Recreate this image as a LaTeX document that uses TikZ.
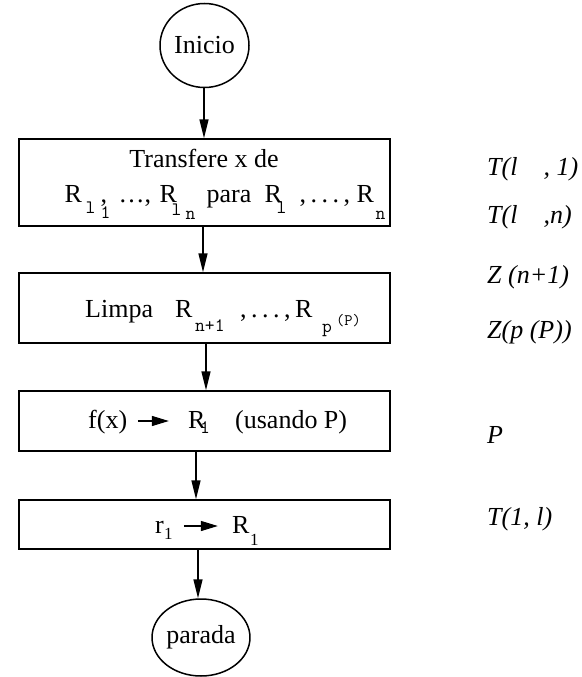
\documentclass[tikz,border=0pt]{standalone}
\usepackage{fontspec}
\setmainfont{Liberation Serif}
\usetikzlibrary{shapes.geometric,arrows.meta,positioning,calc}

% lowered register index, and piece placed at a fixed offset on a line
\newcommand{\regsub}[3][19]{\raisebox{-#2pt}{\fontsize{#1}{#1}\ttfamily #3}}
\newcommand{\placeat}[2]{\makebox[0pt][l]{\hspace*{#1pt}#2}}
\newcommand{\regdots}{,\hspace{4.5pt}.\hspace{4.5pt}.\hspace{4.5pt}.\hspace{4.5pt},}
\newcommand{\mapsarrow}[1]{\tikz[baseline=-7pt]\draw[line width=1.3pt,-{Triangle[length=17pt,width=10pt]}] (0pt,0pt) -- (#1pt,0pt);}

\begin{document}
\begin{tikzpicture}[x=1pt, y=-1pt,
    every node/.style={font=\fontsize{26}{31}\selectfont},
    terminal/.style={ellipse, draw, line width=1.5pt, inner sep=0pt},
    stepbox/.style={rectangle, draw, line width=1.5pt, minimum width=371pt, inner sep=0pt},
    line/.style={anchor=base west, inner sep=0pt},
    note/.style={anchor=base west, inner sep=0pt, font=\fontsize{26}{31}\selectfont\itshape},
    flow/.style={line width=1.5pt, -{Triangle[length=19pt,width=9pt]}}
]
\useasboundingbox (0,0) rectangle (581,677);

% Terminals
\node[terminal, minimum width=89pt, minimum height=84pt] (inicio) at (204.5,45.5) {Inicio};
\node[terminal, minimum width=92pt, minimum height=77pt] (parada) at (201,637.5) {parada};

% Steps
\node[stepbox, minimum height=87pt] (transfere) at (204.5,182.5) {};
\node[stepbox, minimum height=70pt] (limpa) at (204.5,308) {};
\node[stepbox, minimum height=60pt] (calcula) at (204.5,421) {};
\node[stepbox, minimum height=49pt] (copia) at (204.5,524.5) {};

% Step texts
\node[anchor=base, inner sep=0pt] (transfereA) at (204,167) {Transfere x de};
\node[line] (transfereB) at (64.5,202) {%
  \placeat{0}{R}%
  \placeat{21}{\regsub{11}{l}}%
  \placeat{36}{,}%
  \placeat{36}{\regsub{16}{1}}%
  \placeat{54}{\textellipsis,}%
  \placeat{95}{R}%
  \placeat{107}{\regsub{13}{l}}%
  \placeat{121}{\regsub{17}{n}}%
  \placeat{142}{para}%
  \placeat{200}{R}%
  \placeat{212}{\regsub{11}{l}}%
  \placeat{235}{\regdots}%
  \placeat{292}{R}%
  \placeat{311}{\regsub{17}{n}}%
  \hspace*{322pt}};
\node[line] (limpaA) at (85,317) {%
  \placeat{0}{Limpa}%
  \placeat{90}{R}%
  \placeat{110}{\regsub{14}{n+1}}%
  \placeat{155}{\regdots}%
  \placeat{210}{R}%
  \placeat{237}{\regsub{15}{p}}%
  \placeat{251}{\regsub[16]{8.5}{(P)}}%
  \hspace*{276pt}};
\node[line] (calculaA) at (88,428) {%
  \placeat{0}{f(x)}%
  \placeat{49}{\mapsarrow{31}}%
  \placeat{100}{R}%
  \placeat{112}{\regsub{5}{1}}%
  \placeat{147}{(usando P)}%
  \hspace*{262pt}};
\node[line] (copiaA) at (155,533) {%
  \placeat{0}{r}%
  \placeat{9}{\raisebox{-6pt}{\fontsize{17}{17}\selectfont 1}}%
  \placeat{28}{\mapsarrow{34}}%
  \placeat{77}{R}%
  \placeat{95}{\raisebox{-12pt}{\fontsize{17}{17}\selectfont 1}}%
  \hspace*{104pt}};

% Flow
\draw[flow] ([xshift=-0.5pt]inicio.south) -- ([xshift=-0.5pt]transfere.north);
\draw[flow] ([xshift=-1.5pt]transfere.south) -- ([xshift=-1.5pt]limpa.north);
\draw[flow] ([xshift=1.5pt]limpa.south) -- ([xshift=1.5pt]calcula.north);
\draw[flow] ([xshift=-8.5pt]calcula.south) -- ([xshift=-8.5pt]copia.north);
\draw[flow] ([xshift=-6.5pt]copia.south) -- ([xshift=-3pt]parada.north);

% Notes on the right
\node[note] (custoA) at (487,175) {T(l\hspace{26pt}, 1)};
\node[note] (custoB) at (487,223) {T(l\hspace{26pt},n)};
\node[note] (custoC) at (487,283) {Z (n+1)};
\node[note] (custoD) at (487,338) {Z(p (P))};
\node[note] (custoE) at (487,443) {P};
\node[note] (custoF) at (487,525) {T(1, l)};

\end{tikzpicture}
\end{document}
